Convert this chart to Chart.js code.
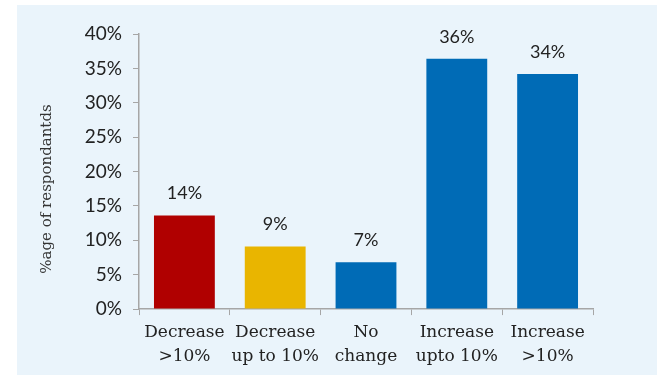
<!DOCTYPE html>
<html lang="en">
<head>
    <meta charset="UTF-8">
    <title>Change in respondents</title>
    <script src="https://cdn.jsdelivr.net/npm/chart.js"></script>
    <style>
        body { margin: 0; background: #fff; }
        #box { position: absolute; left: 17px; top: 5px; width: 640px; height: 370px; background: #eaf4fb; }
    </style>
</head>
<body>
    <div id="box"><canvas id="chart" width="640" height="370"></canvas></div>

    <script>
        const categories = [['Decrease', '>10%'], ['Decrease', 'up to 10%'], ['No', 'change'], ['Increase', 'upto 10%'], ['Increase', '>10%']];
        const values = [13.6, 9.1, 6.8, 36.4, 34.2];
        const valueLabels = ['14%', '9%', '7%', '36%', '34%'];
        const barColors = ['#b00000', '#e9b500', '#006bb6', '#006bb6', '#006bb6'];
        const yTitle = '%age of respondantds';

        // labels over the bars + rotated axis title
        const extras = {
            id: 'extras',
            afterDatasetsDraw(chart) {
                const ctx = chart.ctx;
                ctx.save();
                ctx.fillStyle = '#222';
                ctx.font = '18px Lato';
                ctx.textAlign = 'center';
                ctx.textBaseline = 'middle';
                chart.getDatasetMeta(0).data.forEach((bar, i) => {
                    ctx.fillText(valueLabels[i], bar.x, bar.y - 22);
                });
                ctx.translate(30, 184);
                ctx.rotate(-Math.PI / 2);
                ctx.fillStyle = '#333';
                ctx.font = '15px "DejaVu Serif"';
                ctx.fillText(yTitle, 0, 0);
                ctx.restore();
            }
        };

        new Chart(document.getElementById('chart'), {
            type: 'bar',
            data: {
                labels: categories,
                datasets: [{ data: values, backgroundColor: barColors, barPercentage: 0.67, categoryPercentage: 1 }]
            },
            options: {
                responsive: false,
                animation: false,
                layout: { padding: { top: 29, right: 64, bottom: 1, left: 0 } },
                plugins: { legend: { display: false }, tooltip: { enabled: false } },
                scales: {
                    x: {
                        grid: { drawOnChartArea: false, color: '#a6a6a6', tickLength: 6 },
                        border: { color: '#a6a6a6', width: 1.5 },
                        ticks: { color: '#222', padding: 6, maxRotation: 0, font: { family: 'DejaVu Serif', size: 17, lineHeight: 1.38 } }
                    },
                    y: {
                        min: 0, max: 40,
                        afterFit(scale) { scale.width = 122; },
                        grid: { drawOnChartArea: false, color: '#a6a6a6', tickLength: 6 },
                        border: { color: '#a6a6a6', width: 1.5 },
                        ticks: { stepSize: 5, color: '#222', padding: 11, font: { family: 'Lato', size: 19 }, callback: v => v + '%' }
                    }
                }
            },
            plugins: [extras]
        });
    </script>
</body>
</html>
